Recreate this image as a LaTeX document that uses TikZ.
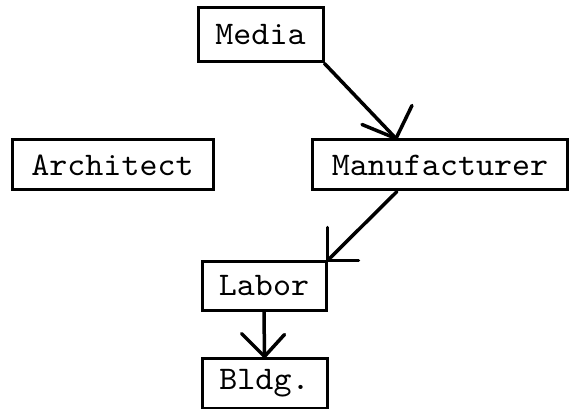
\documentclass[tikz,border=0pt]{standalone}
\usepackage{fontspec}
\newfontfamily\typew{lmmono10-regular.otf}[FakeStretch=1.04]
\usetikzlibrary{calc}
\begin{document}
\begin{tikzpicture}[x=1pt,y=-1pt,
  box/.style={draw,line width=3pt,rectangle,inner sep=0pt,
    font=\fontsize{33}{33}\selectfont\typew},
  link/.style={line width=3.5pt,line cap=round}]
\useasboundingbox (0,0) rectangle (571,409);
% boxes
\node[box,minimum width=125pt,minimum height=54pt] (media) at (260.5,35) {Media};
\node[box,minimum width=201pt,minimum height=50pt] (arch) at (112.5,165) {Architect};
\node[box,minimum width=255pt,minimum height=50pt] (manu) at (440,165) {Manufacturer};
\node[box,minimum width=124pt,minimum height=48pt] (labor) at (264,286) {Labor};
\node[box,minimum width=125pt,minimum height=50pt] (bldg) at (264.5,383) {Bldg.};
% arrow end points
\coordinate (t1) at ($(manu.north west)+(85,0)$);
\coordinate (s2) at ($(manu.south west)+(86,0)$);
\coordinate (t2) at (labor.north east);
\coordinate (t3) at (bldg.north);
% Media -> Manufacturer
\draw[link] (media.south east) -- (t1);
\draw[link] (t1) -- ++(-34,-14);
\draw[link] (t1) -- ++(16,-33);
% Manufacturer -> Labor
\draw[link] (s2) -- (t2);
\draw[link] (t2) -- ++(0,-33);
\draw[link] (t2) -- ++(31,0);
% Labor -> Bldg.
\draw[link] (labor.south) -- (t3);
\draw[link] (t3) -- ++(-23,-23);
\draw[link] (t3) -- ++(20,-22);
\end{tikzpicture}
\end{document}
